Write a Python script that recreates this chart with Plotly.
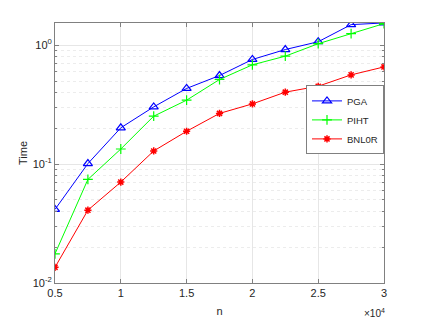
import plotly.graph_objects as go

n = [5000, 7500, 10000, 12500, 15000, 17500, 20000, 22500, 25000, 27500, 30000]
pga = [0.0416, 0.101, 0.202, 0.303, 0.433, 0.556, 0.759, 0.92, 1.07, 1.49, 1.54]
piht = [0.0176, 0.0743, 0.134, 0.253, 0.345, 0.515, 0.684, 0.809, 1.03, 1.25, 1.52]
bnl0r = [0.01355, 0.041, 0.0706, 0.129, 0.189, 0.267, 0.321, 0.403, 0.452, 0.563, 0.657]

x_ticks = [5000, 10000, 15000, 20000, 25000, 30000]
x_ticktext = ["0.5", "1", "1.5", "2", "2.5", "3"]
y_ticks = [0.01, 0.1, 1]
y_ticktext = ["10<sup>-2</sup>", "10<sup>-1</sup>", "10<sup>0</sup>"]

font = "Liberation Sans, Arial, sans-serif"
axcol = "#808080"
txtcol = "#262626"

fig = go.Figure()
fig.add_trace(go.Scatter(x=n, y=pga, name="PGA", mode="lines+markers",
                         line=dict(color="#0000ff", width=1),
                         marker=dict(symbol="triangle-up-open", size=8, color="#0000ff", line=dict(width=1.2))))
fig.add_trace(go.Scatter(x=n, y=piht, name="PIHT", mode="lines+markers",
                         line=dict(color="#00ff00", width=1),
                         marker=dict(symbol="cross-thin-open", size=7, color="#00ff00", line=dict(width=1.2, color="#00ff00"))))
fig.add_trace(go.Scatter(x=n, y=bnl0r, name="BNL0R", mode="lines+markers",
                         line=dict(color="#ff0000", width=1),
                         marker=dict(symbol="asterisk-open", size=6, color="#ff0000", line=dict(width=1.5, color="#ff0000"))))

minor_y = [m * 10.0 ** e for e in (-2, -1, 0) for m in range(2, 10) if m * 10.0 ** e < 1.6]

fig.update_layout(
    width=417, height=311,
    margin=dict(l=47, r=41, t=15, b=36),
    paper_bgcolor="white", plot_bgcolor="white",
    font=dict(family=font, size=11, color=txtcol),
    showlegend=True,
    legend=dict(x=1, y=0.76, xanchor="right", yanchor="top",
                bgcolor="white", bordercolor=axcol, borderwidth=1,
                font=dict(size=9.5, color=txtcol),
                tracegroupgap=0, itemwidth=30),
    xaxis=dict(range=[5000, 30000], tickmode="array", tickvals=x_ticks, ticktext=x_ticktext,
               showgrid=True, gridcolor="#e6e6e6", gridwidth=1,
               showline=True, linecolor=axcol, linewidth=1, mirror="ticks",
               ticks="inside", ticklen=4, tickcolor=axcol, zeroline=False,
               automargin=False,
               title=dict(text="n", standoff=9, font=dict(size=11))),
    yaxis=dict(type="log", range=[-2, 0.187], tickmode="array", tickvals=y_ticks, ticktext=y_ticktext,
               showgrid=True, gridcolor="#e6e6e6", gridwidth=1,
               showline=True, linecolor=axcol, linewidth=1, mirror="ticks",
               ticks="inside", ticklen=4, tickcolor=axcol, zeroline=False,
               automargin=False,
               minor=dict(tickmode="array", tickvals=minor_y, ticks="inside", ticklen=2,
                          tickcolor=axcol, showgrid=True, gridcolor="#ececec", griddash="dot"),
               title=dict(text="Time", standoff=2, font=dict(size=11))),
)

fig.add_annotation(xref="paper", yref="paper", x=1.01, y=-0.085, xanchor="right", yanchor="top",
                   text="×10<sup>4</sup>", showarrow=False, font=dict(size=10, color=txtcol))

fig.write_html("out.html")
